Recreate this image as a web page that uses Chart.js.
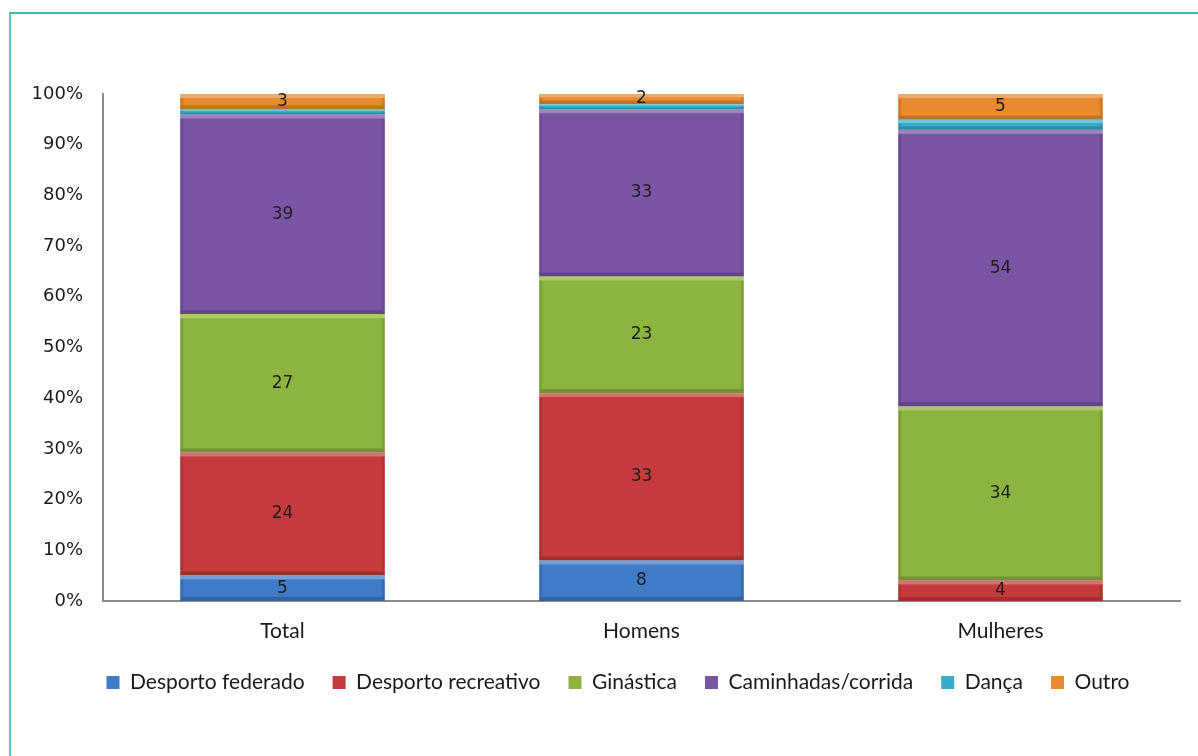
<!DOCTYPE html>
<html>
<head>
<meta charset="utf-8">
<script src="https://cdn.jsdelivr.net/npm/chart.js@4/dist/chart.umd.min.js"></script>
<style>
  html, body { margin: 0; padding: 0; background: #fff; }
  #wrap { position: relative; width: 1198px; height: 756px; overflow: hidden; }
  #frame { position: absolute; left: 9px; top: 12px; width: 1300px; height: 900px;
           border-top: 2px solid #3fb6b0; border-left: 2px solid #5cc2bd; }
  #chart { position: absolute; left: 0; top: 0; }
</style>
</head>
<body>
<div id="wrap">
  <div id="frame"></div>
  <canvas id="chart" width="1198" height="756"></canvas>
</div>
<script>
const categories = ['Total', 'Homens', 'Mulheres'];
const seriesNames = ['Desporto federado', 'Desporto recreativo', 'Ginástica', 'Caminhadas/corrida', 'Dança', 'Outro'];
const federado = [5, 8, 0];
const recreativo = [24, 33, 4];
const ginastica = [27, 23, 34];
const caminhadas = [39, 33, 54];
const danca = [1, 1, 2];
const outro = [3, 2, 5];
const yTicks = [0, 10, 20, 30, 40, 50, 60, 70, 80, 90, 100];

const seriesValues = [federado, recreativo, ginastica, caminhadas, danca, outro];
const colors = ['#3f7bc6', '#c63a3b', '#8db340', '#7a54a5', '#38abc8', '#e98a2e'];
const showLabel = [true, true, true, true, false, true];

// 100% stacked: each column is turned into shares
const totals = categories.map((c, i) => seriesValues.reduce((s, arr) => s + arr[i], 0));

const datasets = seriesValues.map((vals, k) => ({
    label: seriesNames[k],
    data: vals.map((v, i) => v / totals[i] * 100),
    raw: vals,
    backgroundColor: colors[k],
    borderWidth: 0,
    barPercentage: 0.57,
    categoryPercentage: 1
}));

const bevel = {
    id: 'bevel',
    afterDatasetsDraw(chart) {
        const ctx = chart.ctx;
        ctx.save();
        chart.data.datasets.forEach((ds, k) => {
            chart.getDatasetMeta(k).data.forEach((el) => {
                const p = el.getProps(['x', 'y', 'base', 'width'], true);
                const top = Math.min(p.y, p.base), bot = Math.max(p.y, p.base);
                const h = bot - top;
                if (h < 1) return;
                const l = p.x - p.width / 2, r = p.x + p.width / 2;
                const e = Math.min(4, h / 3);
                ctx.fillStyle = 'rgba(255,255,255,0.28)';
                ctx.fillRect(l, top, p.width, e);
                ctx.fillStyle = 'rgba(0,0,0,0.18)';
                ctx.fillRect(l, bot - e, p.width, e);
                ctx.fillStyle = 'rgba(0,0,0,0.10)';
                ctx.fillRect(l, top + e, 3, h - 2 * e);
                ctx.fillRect(r - 3, top + e, 3, h - 2 * e);
            });
        });
        ctx.restore();
    }
};

const valueLabels = {
    id: 'valueLabels',
    afterDatasetsDraw(chart) {
        const ctx = chart.ctx;
        ctx.save();
        ctx.font = '17px "DejaVu Sans"';
        ctx.fillStyle = '#1e1e1e';
        ctx.textAlign = 'center';
        ctx.textBaseline = 'middle';
        chart.data.datasets.forEach((ds, k) => {
            if (!showLabel[k]) return;
            chart.getDatasetMeta(k).data.forEach((el, i) => {
                if (!ds.raw[i]) return;
                const p = el.getProps(['x', 'y', 'base'], true);
                ctx.fillText(String(ds.raw[i]), p.x, (p.y + p.base) / 2);
            });
        });
        ctx.restore();
    }
};

// legend is centred a bit right of the canvas middle in the original
const legendShift = {
    id: 'legendShift',
    afterLayout(chart) {
        const lg = chart.legend;
        lg.left = 56;
        lg.right = 1180;
        lg.width = lg.right - lg.left;
    }
};

new Chart(document.getElementById('chart').getContext('2d'), {
    type: 'bar',
    data: { labels: categories, datasets: datasets },
    options: {
        responsive: false,
        animation: false,
        layout: { padding: { left: 20, right: 18, top: 94, bottom: 53 } },
        scales: {
            x: {
                stacked: true,
                grid: { display: false },
                border: { display: true, color: '#8a8a8a', width: 2 },
                ticks: { color: '#1a1a1a', font: { family: 'Lato', size: 21 }, padding: 10 },
                afterFit(scale) { scale.height = 43; }
            },
            y: {
                stacked: true,
                min: 0,
                max: 100,
                grid: { display: false },
                border: { display: true, color: '#8a8a8a', width: 2 },
                afterBuildTicks(scale) { scale.ticks = yTicks.map(v => ({ value: v })); },
                ticks: {
                    color: '#1a1a1a',
                    font: { family: 'DejaVu Sans', size: 18 },
                    padding: 12,
                    callback: (v) => v + '%'
                },
                afterFit(scale) { scale.width = 83; }
            }
        },
        plugins: {
            legend: {
                position: 'bottom',
                labels: {
                    color: '#1a1a1a',
                    font: { family: 'Lato', size: 21 },
                    boxWidth: 13,
                    boxHeight: 13,
                    padding: 28
                }
            },
            tooltip: { enabled: false }
        }
    },
    plugins: [bevel, valueLabels, legendShift]
});
</script>
</body>
</html>
